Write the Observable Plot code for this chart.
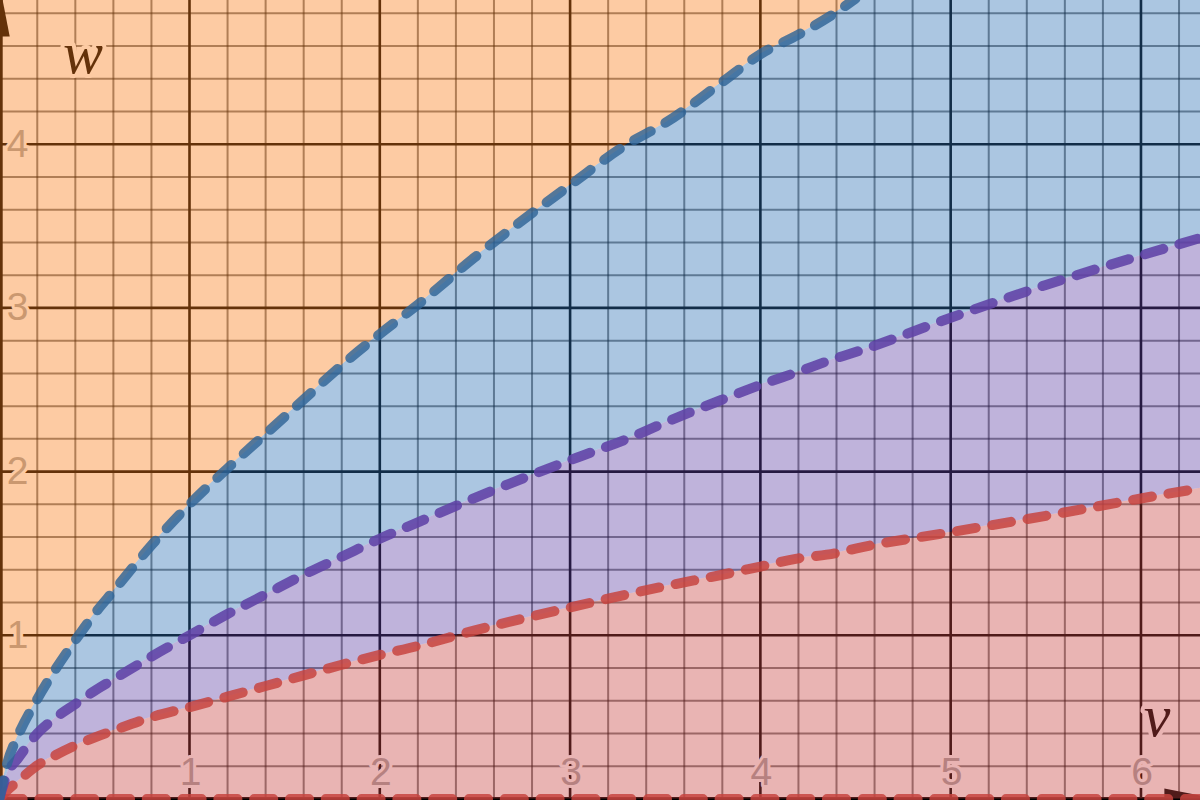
<!DOCTYPE html>
<html><head><meta charset="utf-8">
<script src="https://cdn.jsdelivr.net/npm/d3@7"></script>
<script src="https://cdn.jsdelivr.net/npm/@observablehq/plot@0.6"></script>
<style>html,body{margin:0;padding:0;background:#fff;overflow:hidden;} #chart svg{display:block;}</style>
</head><body><div id="chart"></div>
<script>
// ---- data ----
const vValues      = [0, 0.04, 0.1, 0.2, 0.3, 0.4, 0.5, 0.6, 0.8, 1.0, 1.2, 1.4, 1.6, 1.8, 2.0, 2.2, 2.5, 3.0, 3.3, 3.5, 3.8, 4.0, 4.2, 4.39, 4.5, 5.0, 5.5, 6.0, 6.32];
const blueCurve    = [0, 0.21, 0.39, 0.61, 0.80, 0.97, 1.13, 1.27, 1.55, 1.80, 2.02, 2.23, 2.44, 2.65, 2.84, 3.02, 3.31, 3.75, 4.00, 4.13, 4.38, 4.55, 4.67, 4.80, 4.89, null, null, null, null];
const purpleCurve  = [0, 0.15, 0.25, 0.40, 0.50, 0.58, 0.66, 0.73, 0.87, 1.00, 1.13, 1.25, 1.37, 1.48, 1.59, 1.69, 1.84, 2.07, 2.20, 2.30, 2.44, 2.53, 2.61, 2.69, 2.73, 2.94, 3.14, 3.32, 3.43];
const redCurve     = [0, 0.05, 0.11, 0.205, 0.27, 0.327, 0.375, 0.418, 0.50, 0.561, 0.625, 0.69, 0.755, 0.82, 0.88, 0.935, 1.03, 1.17, 1.25, 1.30, 1.37, 1.42, 1.47, 1.50, 1.53, 1.63, 1.73, 1.836, 1.90];
const xTicks = [1, 2, 3, 4, 5, 6];
const yTicks = [1, 2, 3, 4];
const xTickLabels = ["1", "2", "3", "4", "5", "6"];
const yTickLabels = ["1", "2", "3", "4"];
const axisNames = ["v", "w"];

// ---- layout ----
const xDomain = [0.0068, 6.3128];
const yDomain = [-0.0092, 4.878];
const TOP = yDomain[1] + 0.2;

const rows = vValues.map((v, i) => ({v, red: redCurve[i], purple: purpleCurve[i], blue: blueCurve[i]}));
const minorX = d3.range(1, 32).map(i => i / 5).filter(d => Math.abs(d - Math.round(d)) > 1e-6);
const minorY = d3.range(1, 25).map(i => i / 5).filter(d => Math.abs(d - Math.round(d)) > 1e-6);

const arrowUp = {draw(ctx) { ctx.moveTo(0, -54); ctx.lineTo(10.5, 0); ctx.lineTo(-10.5, 0); ctx.closePath(); }};
const arrowRight = {draw(ctx) { ctx.moveTo(54, 0); ctx.lineTo(0, 10.5); ctx.lineTo(0, -10.5); ctx.closePath(); }};

const COLORS = {red: "#c74440", purple: "#6042a6", blue: "#2d70b3", orange: "#fa7e19", blueLine: "#2f6496"};
const curve = "monotone-x";
const dash = "19,16.8";

const chart = Plot.plot({
  width: 1200, height: 800, margin: 0,
  x: {domain: xDomain, axis: null},
  y: {domain: yDomain, axis: null},
  style: {background: "white"},
  marks: [
    // grid
    Plot.ruleX(minorX, {stroke: "#000", strokeOpacity: 0.5, strokeWidth: 2}),
    Plot.ruleY(minorY, {stroke: "#000", strokeOpacity: 0.5, strokeWidth: 2}),
    Plot.ruleX(xTicks, {stroke: "#000", strokeWidth: 2.6}),
    Plot.ruleY(yTicks, {stroke: "#000", strokeWidth: 2.6}),
    // axes
    Plot.ruleX([0], {stroke: "#000", strokeWidth: 7}),
    Plot.ruleY([0], {stroke: "#000", strokeWidth: 4}),
    Plot.dot([0], {x: 0, y: yDomain[1] - 0.22, symbol: arrowUp, fill: "#000", stroke: "none"}),
    Plot.dot([0], {x: xDomain[1] - 0.19, y: 0, symbol: arrowRight, fill: "#000", stroke: "none"}),
    // tick labels
    Plot.text(xTicks, {x: d => d, y: 0, text: (d, i) => xTickLabels[i], dy: -26, dx: 1,
      fontSize: 39, fontFamily: "Liberation Sans, Arial, sans-serif", fill: "#aaaaaa",
      stroke: "white", strokeWidth: 6, strokeLinejoin: "round", paintOrder: "stroke", textAnchor: "middle", lineAnchor: "middle"}),
    Plot.text(yTicks, {x: 0, y: d => d, text: (d, i) => yTickLabels[i], dx: 18.3, dy: 0,
      fontSize: 39, fontFamily: "Liberation Sans, Arial, sans-serif", fill: "#aaaaaa",
      stroke: "white", strokeWidth: 6, strokeLinejoin: "round", paintOrder: "stroke", textAnchor: "middle", lineAnchor: "middle"}),
    // axis names
    Plot.text([axisNames[0]], {x: 6.085, y: 0.505, text: d => d, fontSize: 60, fontStyle: "italic",
      fontFamily: "Liberation Serif, Times New Roman, serif", fill: "#000",
      stroke: "white", strokeWidth: 8, strokeLinejoin: "round", paintOrder: "stroke", textAnchor: "middle", lineAnchor: "middle"}),
    Plot.text([axisNames[1]], {x: 0.44, y: 4.555, text: d => d, fontSize: 60, fontStyle: "italic",
      fontFamily: "Liberation Serif, Times New Roman, serif", fill: "#000",
      stroke: "white", strokeWidth: 8, strokeLinejoin: "round", paintOrder: "stroke", textAnchor: "middle", lineAnchor: "middle"}),
    // shaded regions
    Plot.areaY(rows, {x: "v", y1: 0, y2: "red", fill: COLORS.red, fillOpacity: 0.4, curve}),
    Plot.areaY(rows, {x: "v", y1: "red", y2: "purple", fill: COLORS.purple, fillOpacity: 0.4, curve}),
    Plot.areaY(rows, {x: "v", y1: "purple", y2: d => d.blue ?? TOP, fill: COLORS.blue, fillOpacity: 0.4, curve}),
    Plot.areaY(rows, {x: "v", y1: d => d.blue ?? TOP, y2: TOP, fill: COLORS.orange, fillOpacity: 0.4, curve}),
    // boundary curves
    Plot.ruleY([0], {stroke: COLORS.red, strokeOpacity: 0.85, strokeWidth: 10, strokeDasharray: dash, strokeDashoffset: 32.2, strokeLinecap: "round"}),
    Plot.lineY(rows, {x: "v", y: "red", stroke: COLORS.red, strokeOpacity: 0.85, strokeWidth: 10, strokeDasharray: dash, strokeLinecap: "round", curve}),
    Plot.lineY(rows, {x: "v", y: "purple", stroke: COLORS.purple, strokeOpacity: 0.88, strokeWidth: 10, strokeDasharray: dash, strokeLinecap: "round", curve}),
    Plot.lineY(rows, {x: "v", y: "blue", stroke: COLORS.blueLine, strokeOpacity: 0.82, strokeWidth: 10, strokeDasharray: dash, strokeLinecap: "round", curve})
  ]
});
document.getElementById("chart").appendChild(chart);
</script></body></html>
